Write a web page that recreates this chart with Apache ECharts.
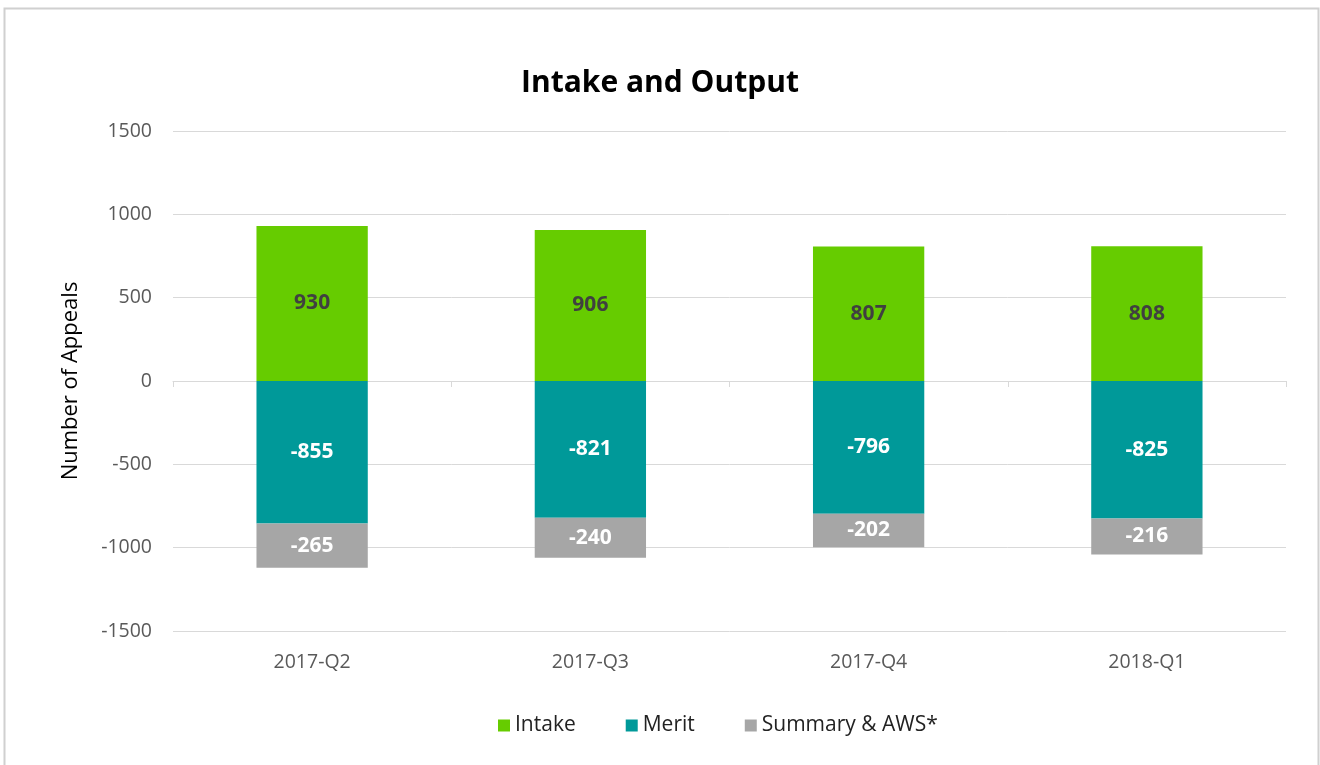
<!DOCTYPE html>
<html>
<head>
<meta charset="utf-8">
<script src="https://cdn.jsdelivr.net/npm/echarts@6/dist/echarts.min.js"></script>
<style>
html,body{margin:0;padding:0;background:#fff;}
#chart{width:1320px;height:765px;}
</style>
</head>
<body>
<div id="chart"></div>
<script>
var categories = ['2017-Q2', '2017-Q3', '2017-Q4', '2018-Q1'];
var intake = [930, 906, 807, 808];
var merit = [-855, -821, -796, -825];
var summary = [-265, -240, -202, -216];
var yTicks = [-1500, -1000, -500, 0, 500, 1000, 1500];

var FONT = '"Open Sans", Lato, sans-serif';
var chart = echarts.init(document.getElementById('chart'));
function lbl(color) {
  return { show: true, position: 'inside', color: color, fontFamily: FONT, fontWeight: 'bold', fontSize: 21 };
}
chart.setOption({
  animation: false,
  textStyle: { fontFamily: FONT },
  graphic: [{
    type: 'rect', silent: true, z: -10,
    shape: { x: 4.5, y: 8.5, width: 1314, height: 780 },
    style: { fill: '#fff', stroke: '#d0d0d0', lineWidth: 2 }
  }],
  title: {
    text: 'Intake and Output', left: 'center', top: 63,
    textStyle: { fontFamily: FONT, fontWeight: 'bold', fontSize: 30, color: '#000' }
  },
  legend: {
    bottom: 24, left: 493, itemWidth: 12, itemHeight: 12, itemGap: 50,
    icon: 'rect',
    textStyle: { fontFamily: FONT, fontSize: 21, color: '#222' }
  },
  grid: { left: 173, right: 34, top: 131, bottom: 134, containLabel: false, outerBoundsMode: 'none' },
  xAxis: {
    type: 'category', data: categories,
    axisLine: { onZero: true, lineStyle: { color: '#d9d9d9' } },
    axisTick: { show: true, length: 6, lineStyle: { color: '#d9d9d9' } },
    axisLabel: { color: '#595959', fontSize: 19.5, fontFamily: FONT, margin: 21 }
  },
  yAxis: {
    type: 'value', min: -1500, max: 1500, interval: 500,
    name: 'Number of Appeals', nameLocation: 'middle', nameGap: 91, nameRotate: 90,
    nameTextStyle: { fontFamily: FONT, fontSize: 22, color: '#000' },
    axisLine: { show: false }, axisTick: { show: false },
    axisLabel: { color: '#595959', fontSize: 19.5, fontFamily: FONT, margin: 21,
      formatter: function (v) { return yTicks.indexOf(v) >= 0 ? String(v) : ''; } },
    splitLine: { lineStyle: { color: '#d9d9d9' } }
  },
  series: [
    { name: 'Intake', type: 'bar', stack: 'a', data: intake, barWidth: '40%',
      itemStyle: { color: '#66CC00' }, label: lbl('#404040') },
    { name: 'Merit', type: 'bar', stack: 'a', data: merit, barWidth: '40%',
      itemStyle: { color: '#009999' }, label: lbl('#fff') },
    { name: 'Summary & AWS*', type: 'bar', stack: 'a', data: summary, barWidth: '40%',
      itemStyle: { color: '#A6A6A6' }, label: lbl('#fff') }
  ]
});
</script>
</body>
</html>
